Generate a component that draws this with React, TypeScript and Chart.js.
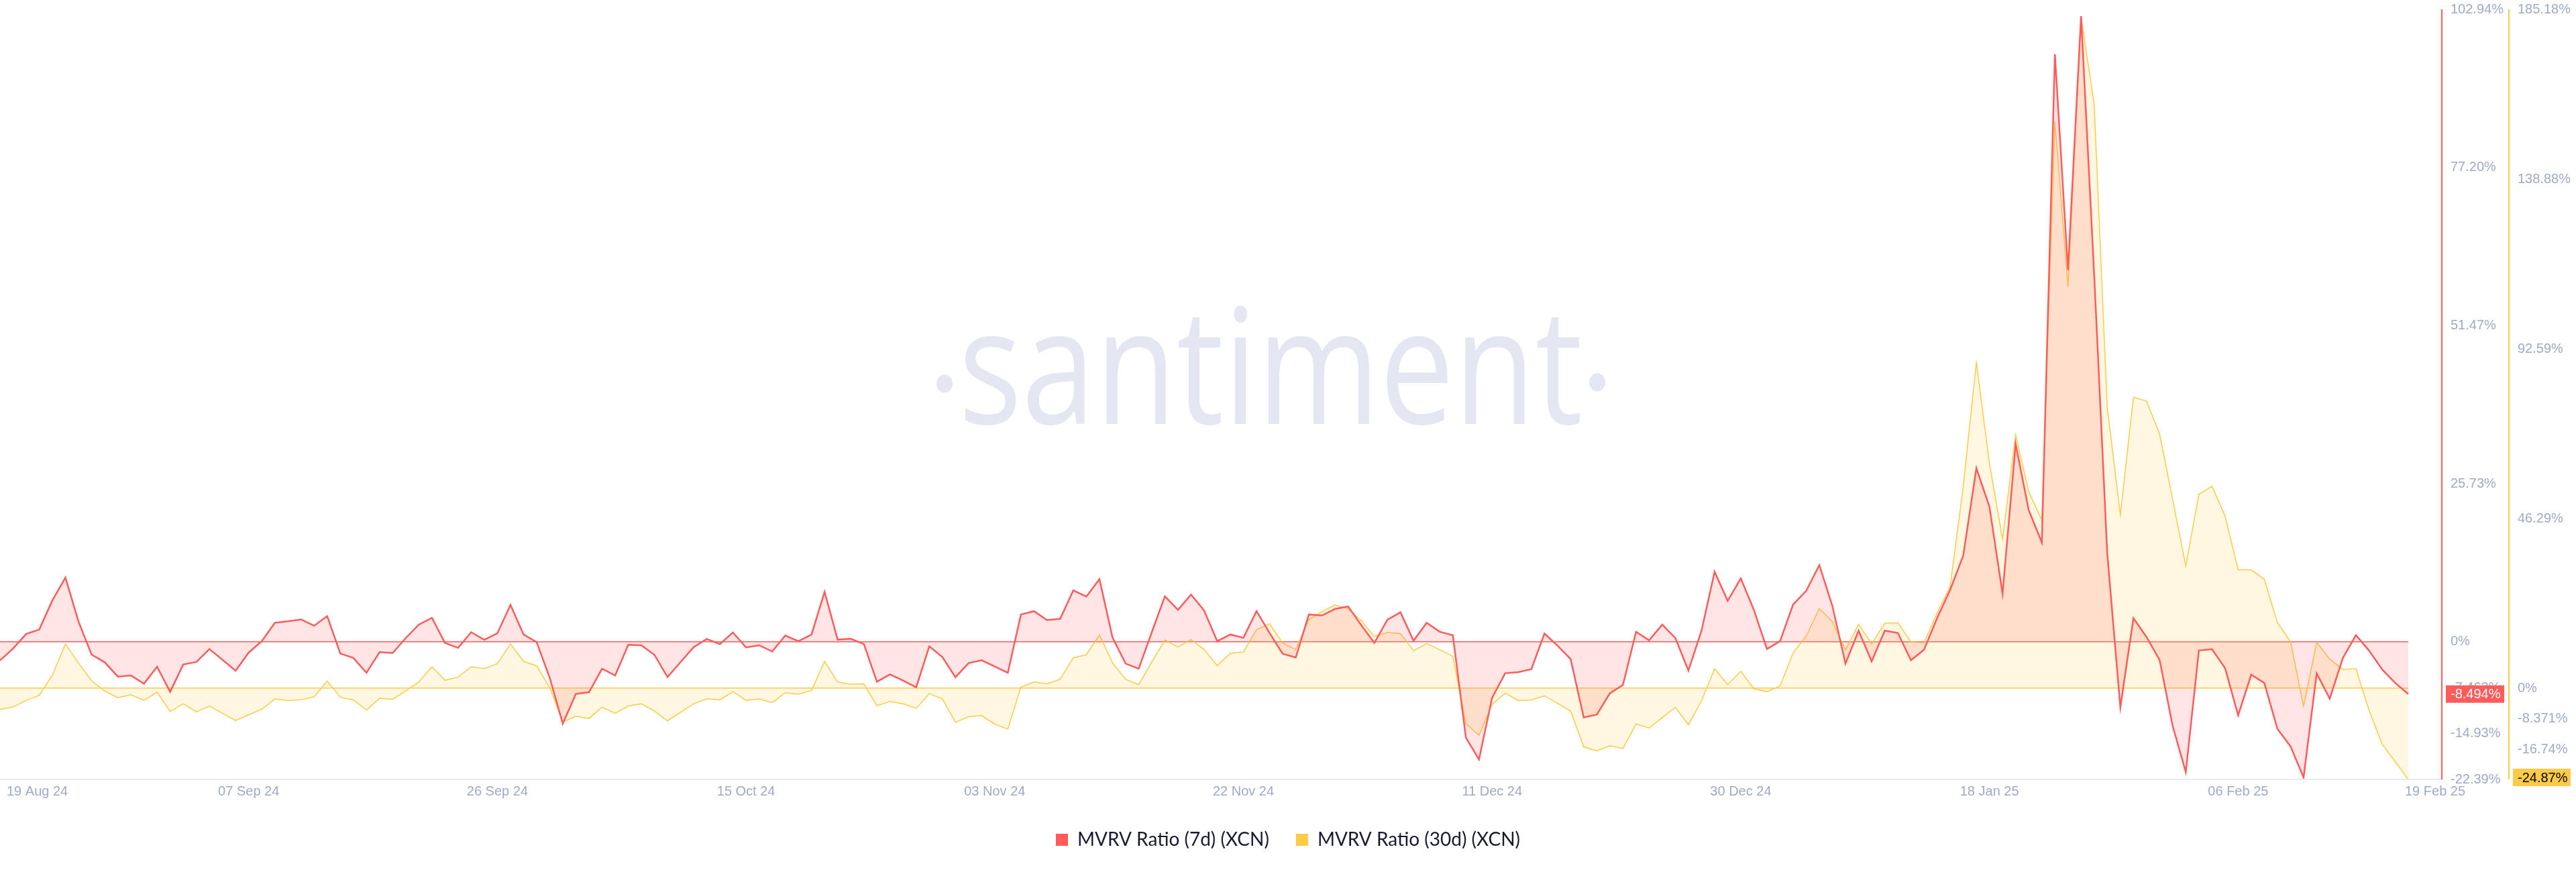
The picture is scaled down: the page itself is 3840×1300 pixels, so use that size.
import React, { useEffect, useRef } from 'react';
import { Chart, registerables } from 'chart.js';

Chart.register(...registerables);

// ---- DATA ----
const START_DATE = '2024-08-19';
const MONTHS = ['Jan', 'Feb', 'Mar', 'Apr', 'May', 'Jun', 'Jul', 'Aug', 'Sep', 'Oct', 'Nov', 'Dec'];

const RED_7D = [
  -3.03, -1.09, 1.28, 2.0, 6.74, 10.46, 3.28, -2.08, -3.32, -5.65,
  -5.47, -6.82, -4.05, -8.13, -3.68, -3.28, -1.17, -2.92, -4.70, -1.75,
  0.11, 3.10, 3.35, 3.65, 2.62, 4.19, -1.90, -2.62, -5.03, -1.68,
  -1.82, 0.62, 2.81, 3.90, -0.18, -0.98, 1.57, 0.33, 1.39, 6.02,
  1.20, -0.04, -5.83, -13.31, -8.46, -8.20, -4.37, -5.47, -0.47, -0.55,
  -2.11, -5.72, -3.28, -0.84, 0.47, -0.36, 1.53, -0.91, -0.55, -1.57,
  1.02, 0.11, 1.17, 8.13, 0.36, 0.51, -0.36, -6.49, -5.29, -6.31,
  -7.40, -0.73, -2.48, -5.76, -3.46, -2.99, -4.01, -5.03, 4.45, 4.99,
  3.54, 3.76, 8.38, 7.36, 10.21, 0.73, -3.54, -4.37, 1.57, 7.40,
  5.21, 7.69, 5.10, 0.11, 1.20, 0.66, 4.99, 1.46, -1.93, -2.55,
  4.45, 4.30, 5.36, 5.76, 2.73, -0.18, 3.61, 4.81, 0.18, 3.10,
  1.64, 1.09, -15.60, -19.14, -9.11, -5.10, -4.92, -4.45, 1.35, -0.62,
  -2.81, -12.29, -11.85, -8.38, -7.00, 1.64, 0.26, 2.81, 0.62, -4.67,
  1.82, 11.41, 6.67, 10.32, 5.21, -1.17, 0.11, 6.09, 8.31, 12.50,
  5.83, -3.54, 1.82, -3.17, 1.82, 1.46, -2.99, -1.28, 3.87, 8.48,
  14.06, 28.25, 21.97, 7.82, 32.21, 21.44, 16.17, 95.65, 60.50, 101.85,
  59.8, 14.41, -10.63, 3.87, 0.79, -2.94, -13.71, -21.18, -1.41, -1.19,
  -4.26, -11.95, -5.36, -6.68, -14.15, -17.00, -22.06, -5.14, -9.23, -2.64,
  1.10, -1.41, -4.48, -6.68, -8.494,
];

const YELLOW_30D = [
  -5.74, -5.13, -3.30, -1.95, 3.54, 12.10, 6.90, 2.02, -0.73, -2.57,
  -1.77, -3.30, -1.04, -6.35, -4.22, -6.41, -4.83, -6.84, -8.80, -7.27,
  -5.74, -2.93, -3.36, -3.12, -2.32, 1.95, -2.44, -3.18, -5.93, -2.75,
  -2.99, -0.73, 1.71, 5.87, 2.20, 3.05, 5.87, 5.38, 6.72, 12.10,
  7.33, 6.11, 0.18, -9.16, -7.64, -8.25, -5.19, -6.84, -4.83, -4.22,
  -6.23, -8.86, -6.54, -4.22, -2.87, -3.18, -0.92, -3.30, -2.93, -3.91,
  -1.22, -1.65, -0.61, 7.33, 1.71, 1.10, 1.22, -4.76, -3.60, -4.22,
  -5.50, -1.47, -2.87, -9.29, -7.76, -7.45, -9.77, -11.12, 0.31, 1.71,
  1.22, 2.44, 8.31, 9.16, 14.54, 6.90, 2.44, 0.98, 7.15, 13.13,
  11.30, 13.32, 10.57, 6.17, 9.53, 9.90, 16.00, 17.53, 12.40, 10.57,
  18.75, 20.89, 22.72, 21.63, 18.45, 14.17, 15.21, 14.91, 10.20, 12.22,
  10.51, 8.67, -9.65, -12.83, -4.40, -1.34, -3.36, -3.18, -2.08, -4.09,
  -6.23, -16.00, -17.10, -15.70, -16.43, -9.77, -10.87, -8.00, -5.19, -9.96,
  -3.42, 5.31, 0.98, 4.67, -0.12, -0.92, 0.61, 9.65, 14.23, 21.75,
  18.20, 10.45, 17.41, 12.10, 17.72, 17.84, 12.65, 12.46, 20.5, 27.8,
  55.1, 88.8, 61.3, 40.7, 69.1, 53.6, 45.9, 154.7, 109.5, 183.1,
  159.3, 76.6, 47.3, 79.4, 78.3, 69.4, 51.4, 33.4, 52.9, 55.1,
  47.0, 32.3, 32.3, 29.7, 17.9, 12.7, -4.93, 12.5, 7.95, 5.15,
  5.38, -6.04, -15.24, -20.03, -24.87,
];

const X_TICK_LABELS = [
  '19 Aug 24', '07 Sep 24', '26 Sep 24', '15 Oct 24', '03 Nov 24', '22 Nov 24',
  '11 Dec 24', '30 Dec 24', '18 Jan 25', '06 Feb 25', '19 Feb 25',
];

const RED_TICKS = [-22.39, -14.93, -7.463, 0, 25.73, 51.47, 77.2, 102.94];
const RED_TICK_LABELS = ['-22.39%', '-14.93%', '-7.463%', '0%', '25.73%', '51.47%', '77.20%', '102.94%'];
const YEL_TICKS = [-24.87, -16.74, -8.371, 0, 46.29, 92.59, 138.88, 185.18];
const YEL_TICK_LABELS = ['-24.87%', '-16.74%', '-8.371%', '0%', '46.29%', '92.59%', '138.88%', '185.18%'];

const SERIES_NAMES = ['MVRV Ratio (7d) (XCN)', 'MVRV Ratio (30d) (XCN)'];

// ---- STYLE ----
const RED = '#ff5b5b';
const YEL = '#ffcb47';
const RED_FILL = 'rgba(255, 91, 91, 0.16)';
const YEL_FILL = 'rgba(255, 203, 71, 0.16)';
const TICK_COLOR = '#9faac4';
const AXIS_FONT = '"Liberation Sans", Arial, sans-serif';

function buildDates(n: number): string[] {
  const start = new Date(START_DATE + 'T00:00:00Z').getTime();
  const out: string[] = [];
  for (let i = 0; i < n; i++) {
    const d = new Date(start + i * 86400000);
    out.push(
      `${String(d.getUTCDate()).padStart(2, '0')} ${MONTHS[d.getUTCMonth()]} ${String(d.getUTCFullYear()).slice(2)}`
    );
  }
  return out;
}

function fmtPct(v: number): string {
  if (v === 0) return '0%';
  return (Math.abs(v) >= 10 ? v.toFixed(2) : v.toFixed(3)) + '%';
}

const decorPlugin = {
  id: 'decor',
  beforeDraw(chart: any) {
    const { ctx } = chart;
    ctx.save();
    ctx.fillStyle = '#e4e7f1';
    ctx.font = '240px "Open Sans", sans-serif';
    ctx.textAlign = 'center';
    ctx.textBaseline = 'alphabetic';
    const w = ctx.measureText('santiment').width;
    const sx = 930 / w;
    ctx.translate(1894, 632);
    ctx.scale(sx, 1);
    ctx.fillText('santiment', 0, 0);
    ctx.restore();
    ctx.save();
    ctx.fillStyle = '#e4e7f1';
    ctx.beginPath();
    ctx.ellipse(1408, 572, 12, 13.5, 0, 0, Math.PI * 2);
    ctx.fill();
    ctx.beginPath();
    ctx.ellipse(2381, 570, 12, 13.5, 0, 0, Math.PI * 2);
    ctx.fill();
    ctx.restore();
  },
  afterDraw(chart: any) {
    const { ctx, chartArea, scales } = chart;
    const yR = scales.yRed;
    const yY = scales.yYel;
    const x = scales.x;
    const redLineX = yR.left + 50;
    const yelLineX = yY.left + 8;
    ctx.save();
    // bottom axis line
    ctx.strokeStyle = '#e6e9f3';
    ctx.lineWidth = 2;
    ctx.beginPath();
    ctx.moveTo(chartArea.left, chartArea.bottom);
    ctx.lineTo(redLineX, chartArea.bottom);
    ctx.stroke();
    // vertical axis lines
    ctx.lineWidth = 2;
    ctx.strokeStyle = RED;
    ctx.beginPath();
    ctx.moveTo(redLineX, chartArea.top);
    ctx.lineTo(redLineX, chartArea.bottom);
    ctx.stroke();
    ctx.strokeStyle = YEL;
    ctx.beginPath();
    ctx.moveTo(yelLineX, chartArea.top);
    ctx.lineTo(yelLineX, chartArea.bottom);
    ctx.stroke();
    // first / last x labels
    ctx.font = '20px ' + AXIS_FONT;
    ctx.fillStyle = TICK_COLOR;
    ctx.textBaseline = 'middle';
    ctx.textAlign = 'left';
    const n = RED_7D.length;
    ctx.fillText(X_TICK_LABELS[0], x.getPixelForValue(0) + 10, chartArea.bottom + 18);
    ctx.fillText(X_TICK_LABELS[X_TICK_LABELS.length - 1], x.getPixelForValue(n - 1) - 5, chartArea.bottom + 18);
    // last value badges
    const lr = RED_7D[n - 1];
    const ly = YELLOW_30D[n - 1];
    const pr = yR.getPixelForValue(lr);
    ctx.fillStyle = RED;
    ctx.fillRect(redLineX + 6, pr - 13, 87, 26);
    ctx.fillStyle = '#ffffff';
    ctx.fillText(fmtPct(lr), redLineX + 13, pr + 1);
    const py = Math.min(yY.getPixelForValue(ly), chartArea.bottom - 3);
    ctx.fillStyle = YEL;
    ctx.fillRect(yelLineX + 6, py - 13, 86, 26);
    ctx.fillStyle = '#000000';
    ctx.fillText(fmtPct(ly), yelLineX + 13, py + 1);
    ctx.restore();
  },
};

export default function App() {
  const canvasRef = useRef<HTMLCanvasElement | null>(null);

  useEffect(() => {
    const canvas = canvasRef.current;
    if (!canvas) return;
    const labels = buildDates(RED_7D.length);
    const lastIdx = labels.length - 1;

    const chart = new Chart(canvas, {
      type: 'line',
      data: {
        labels,
        datasets: [
          {
            label: SERIES_NAMES[0],
            data: RED_7D,
            yAxisID: 'yRed',
            borderColor: RED,
            backgroundColor: RED_FILL,
            borderWidth: 2.5,
            fill: { value: 0 },
            pointRadius: 0,
            tension: 0,
          },
          {
            label: SERIES_NAMES[1],
            data: YELLOW_30D,
            yAxisID: 'yYel',
            borderColor: YEL,
            backgroundColor: YEL_FILL,
            borderWidth: 1.5,
            fill: { value: 0 },
            pointRadius: 0,
            tension: 0,
          },
        ],
      },
      options: {
        responsive: false,
        animation: false,
        events: [],
        layout: { padding: { top: 14, bottom: 24, left: 0, right: 0 } },
        plugins: {
          tooltip: { enabled: false },
          legend: {
            position: 'bottom',
            labels: {
              boxWidth: 18,
              boxHeight: 18,
              padding: 40,
              color: '#181b2f',
              font: { family: 'Lato, "Open Sans", sans-serif', size: 28 },
              generateLabels: (ch: any) =>
                Chart.defaults.plugins.legend.labels.generateLabels(ch).map((l: any) => ({
                  ...l,
                  fillStyle: l.datasetIndex === 0 ? RED : YEL,
                  strokeStyle: l.datasetIndex === 0 ? RED : YEL,
                  lineWidth: 0,
                })),
            },
          },
        },
        scales: {
          x: {
            type: 'category',
            grid: { display: false, drawTicks: false },
            border: { display: false },
            afterFit: (s: any) => {
              s.paddingLeft = 0;
              s.paddingRight = 0;
            },
            ticks: {
              autoSkip: false,
              maxRotation: 0,
              minRotation: 0,
              padding: 6,
              color: TICK_COLOR,
              font: { family: AXIS_FONT, size: 20 },
              callback: (_v: any, idx: number) => {
                if (idx === 0 || idx === lastIdx) return '';
                const l = labels[idx];
                return X_TICK_LABELS.includes(l) ? l : '';
              },
            },
          },
          yRed: {
            type: 'linear',
            position: 'right',
            min: RED_TICKS[0],
            max: RED_TICKS[RED_TICKS.length - 1],
            afterBuildTicks: (s: any) => {
              s.ticks = RED_TICKS.map((v) => ({ value: v }));
            },
            afterFit: (s: any) => {
              s.width = 142;
              s.paddingTop = 0;
              s.paddingBottom = 0;
            },
            border: { display: false },
            grid: {
              drawTicks: false,
              drawOnChartArea: true,
              lineWidth: 1.5,
              color: (c: any) => (c.tick && c.tick.value === 0 ? RED : 'rgba(0,0,0,0)'),
            },
            ticks: {
              padding: 63,
              color: TICK_COLOR,
              font: { family: AXIS_FONT, size: 20 },
              callback: (_v: any, idx: number) => RED_TICK_LABELS[idx],
            },
          },
          yYel: {
            type: 'linear',
            position: 'right',
            min: YEL_TICKS[0],
            max: YEL_TICKS[YEL_TICKS.length - 1],
            afterBuildTicks: (s: any) => {
              s.ticks = YEL_TICKS.map((v) => ({ value: v }));
            },
            afterFit: (s: any) => {
              s.width = 108;
              s.paddingTop = 0;
              s.paddingBottom = 0;
            },
            border: { display: false },
            grid: {
              drawTicks: false,
              drawOnChartArea: true,
              lineWidth: 1.5,
              color: (c: any) => (c.tick && c.tick.value === 0 ? YEL : 'rgba(0,0,0,0)'),
            },
            ticks: {
              padding: 21,
              color: TICK_COLOR,
              font: { family: AXIS_FONT, size: 20 },
              callback: (_v: any, idx: number) => YEL_TICK_LABELS[idx],
            },
          },
        },
      },
      plugins: [decorPlugin],
    } as any);

    return () => {
      chart.destroy();
    };
  }, []);

  return (
    <div style={{ position: 'absolute', left: 0, top: 0, width: 3840, height: 1300, background: '#ffffff' }}>
      <canvas ref={canvasRef} width={3840} height={1300} style={{ width: 3840, height: 1300, display: 'block' }} />
    </div>
  );
}
